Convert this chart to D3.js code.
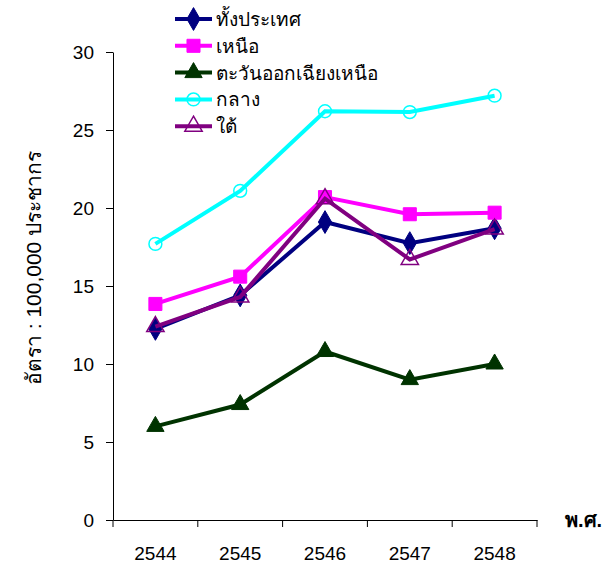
<!DOCTYPE html>
<html><head><meta charset="utf-8">
<script src="https://cdn.jsdelivr.net/npm/d3@7"></script>
<style>body{margin:0;background:#fff}svg{display:block}text{font-family:Tahoma,"Liberation Sans","DejaVu Sans",sans-serif}</style>
</head><body><svg id="c" width="614" height="564"></svg>
<script>
const years = ["2544","2545","2546","2547","2548"];
const seriesNames = ["ทั้งประเทศ","เหนือ","ตะวันออกเฉียงเหนือ","กลาง","ใต้"];
const wholeCountry = [12.25,14.4,19.1,17.75,18.7];
const north = [13.85,15.6,20.7,19.6,19.7];
const northeast = [6.0,7.4,10.8,9.0,10.0];
const central = [17.7,21.1,26.2,26.15,27.2];
const south = [12.4,14.3,20.6,16.7,18.65];
const yTicks = [0,5,10,15,20,25,30];
const yTitle = "อัตรา : 100,000 ประชากร";
const xTitle = "พ.ศ.";

const styles = [
  {color:"#000080", shape:"diamond", fill:true},
  {color:"#FF00FF", shape:"square", fill:true},
  {color:"#003300", shape:"triangle", fill:true},
  {color:"#00FFFF", shape:"circle", fill:false},
  {color:"#800080", shape:"triangle", fill:false}
];
const data = [wholeCountry, north, northeast, central, south];

const svg = d3.select("#c");
const x = d3.scaleBand().domain(years).range([113,537]);
const y = d3.scaleLinear().domain([0,30]).range([520,52]);

// axes
const yAxis = svg.append("g").attr("transform","translate(113,0)")
  .call(d3.axisLeft(y).tickValues(yTicks).tickSize(7).tickPadding(12).tickSizeOuter(0));
yAxis.select(".domain").attr("stroke","#000");
yAxis.selectAll("text").attr("font-size",19).attr("fill","#000");
const xAxis = svg.append("g").attr("transform","translate(0,520)")
  .call(d3.axisBottom(x).tickSize(0).tickPadding(27));
xAxis.select(".domain").attr("stroke","#000");
xAxis.selectAll("text").attr("font-size",19).attr("fill","#000");
// boundary ticks for category axis
const bounds = years.map(d=>x(d)).concat([x.range()[1]]);
svg.append("g").selectAll("line").data(bounds).join("line")
  .attr("x1",d=>d).attr("x2",d=>d).attr("y1",520).attr("y2",527).attr("stroke","#000");

svg.append("text").attr("transform","translate(41,268) rotate(-90)")
  .attr("text-anchor","middle").attr("font-size",21).text(yTitle);
svg.append("text").attr("x",565).attr("y",527).attr("font-size",20).attr("font-weight","bold").text(xTitle);

const sym = {diamond:d3.symbolDiamond, square:d3.symbolSquare, triangle:d3.symbolTriangle, circle:d3.symbolCircle};
const sizes = {diamond:150, square:170, triangle:130, circle:130};
function marker(g, st, cx, cy){
  g.append("path").attr("d", d3.symbol().type(sym[st.shape]).size(sizes[st.shape])())
    .attr("transform",`translate(${cx},${cy})`)
    .attr("fill", st.fill ? st.color : "none")
    .attr("stroke", st.color).attr("stroke-width", st.fill?1:1.5);
}

const line = d3.line().x((d,i)=>x(years[i])+x.bandwidth()/2).y(d=>y(d));
data.forEach((vals,si)=>{
  const st = styles[si];
  const g = svg.append("g");
  g.append("path").attr("d",line(vals)).attr("fill","none").attr("stroke",st.color)
    .attr("stroke-width",4).attr("stroke-linejoin","miter");
  vals.forEach((v,i)=>marker(g,st,x(years[i])+x.bandwidth()/2,y(v)));
});

// legend
const lg = svg.append("g");
seriesNames.forEach((n,i)=>{
  const yy = 19 + i*26.8;
  const st = styles[i];
  lg.append("line").attr("x1",175).attr("x2",212).attr("y1",yy).attr("y2",yy)
    .attr("stroke",st.color).attr("stroke-width",4);
  marker(lg, st, 193.5, yy);
  lg.append("text").attr("x",216).attr("y",yy+7).attr("font-size",19).text(n);
});
</script></body></html>
